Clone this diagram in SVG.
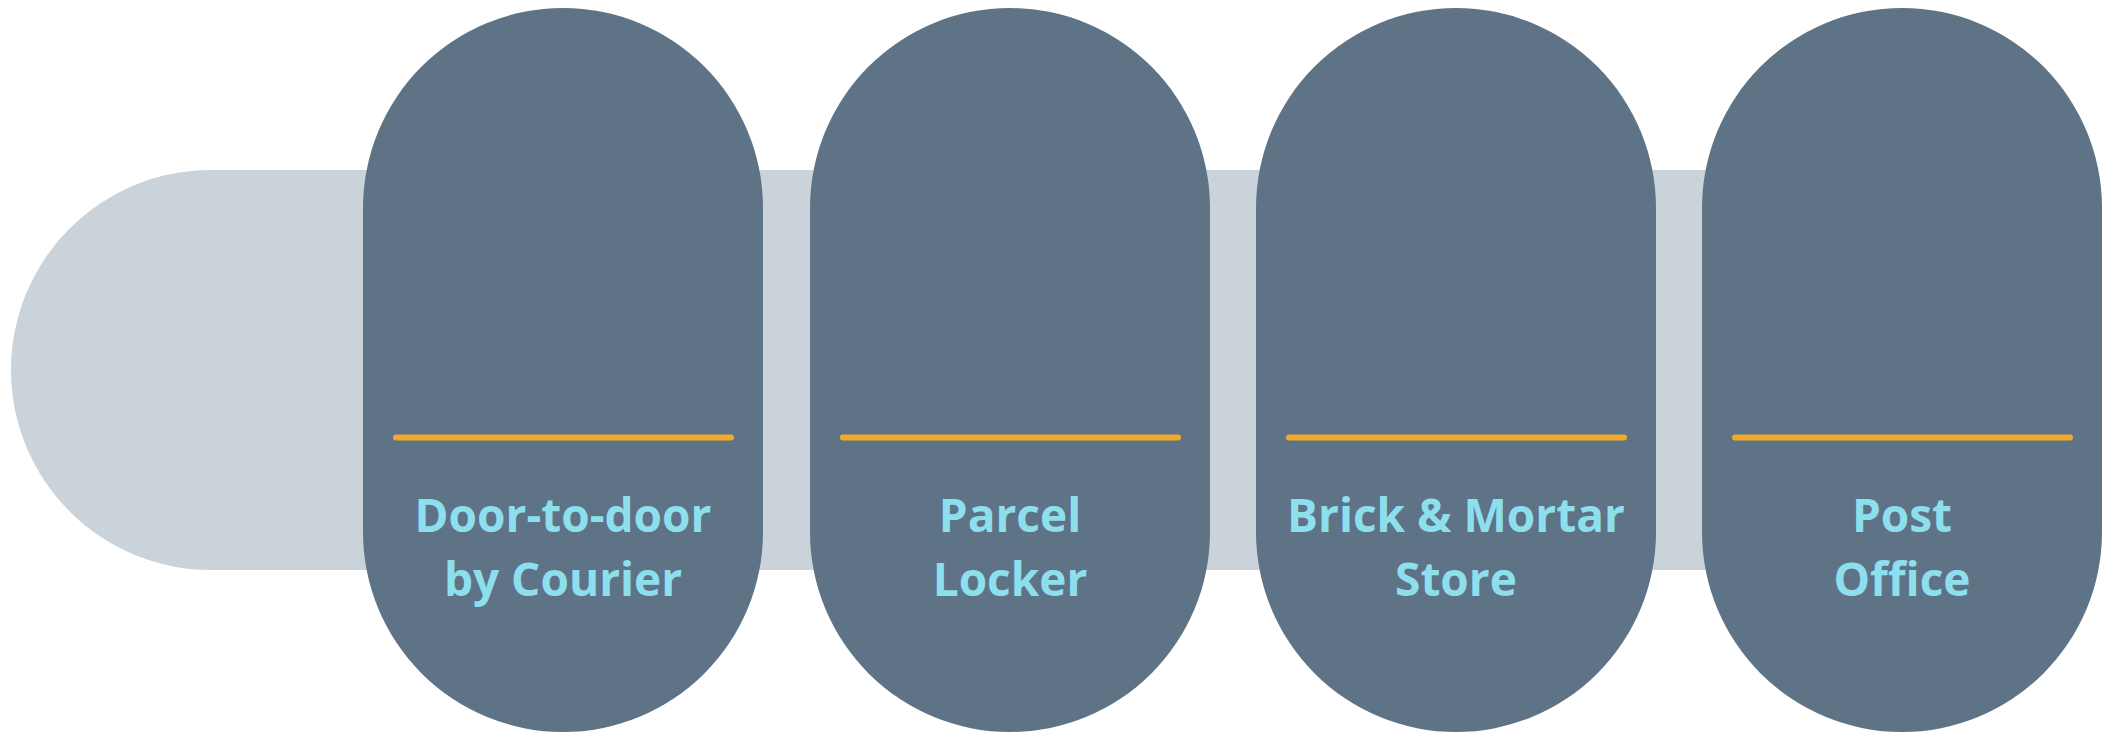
<svg xmlns="http://www.w3.org/2000/svg" width="2106" height="733" viewBox="0 0 2106 733">
<style>
.bar{fill:#CAD2DA}
.pill{fill:#5F7387}
.rule{stroke:#F2A92C;stroke-width:6;stroke-linecap:round;fill:none}
.lbl{font-family:"Open Sans","Noto Sans","Liberation Sans",sans-serif;font-weight:700;font-size:46px;fill:#8EDFED;text-anchor:middle}
</style>
<rect width="2106" height="733" fill="#FFFFFF"/>
<g id="band"><rect class="bar" x="11" y="170" width="2060" height="400" rx="200" ry="200"/></g>
<g id="connectors"></g>
<g id="node-door">
<rect class="pill" x="363" y="8" width="400" height="724" rx="200" ry="200"/>
<line class="rule" x1="396" y1="437.5" x2="731" y2="437.5"/>
<text class="lbl" x="563" y="532">Door-to-door</text>
<text class="lbl" x="563" y="596">by Courier</text>
</g>
<g id="node-locker">
<rect class="pill" x="810" y="8" width="400" height="724" rx="200" ry="200"/>
<line class="rule" x1="843" y1="437.5" x2="1178" y2="437.5"/>
<text class="lbl" x="1010" y="532">Parcel</text>
<text class="lbl" x="1010" y="596">Locker</text>
</g>
<g id="node-store">
<rect class="pill" x="1256" y="8" width="400" height="724" rx="200" ry="200"/>
<line class="rule" x1="1289" y1="437.5" x2="1624" y2="437.5"/>
<text class="lbl" x="1456" y="532">Brick &amp; Mortar</text>
<text class="lbl" x="1456" y="596">Store</text>
</g>
<g id="node-post">
<rect class="pill" x="1702" y="8" width="400" height="724" rx="200" ry="200"/>
<line class="rule" x1="1735" y1="437.5" x2="2070" y2="437.5"/>
<text class="lbl" x="1902" y="532">Post</text>
<text class="lbl" x="1902" y="596">Office</text>
</g>
</svg>
